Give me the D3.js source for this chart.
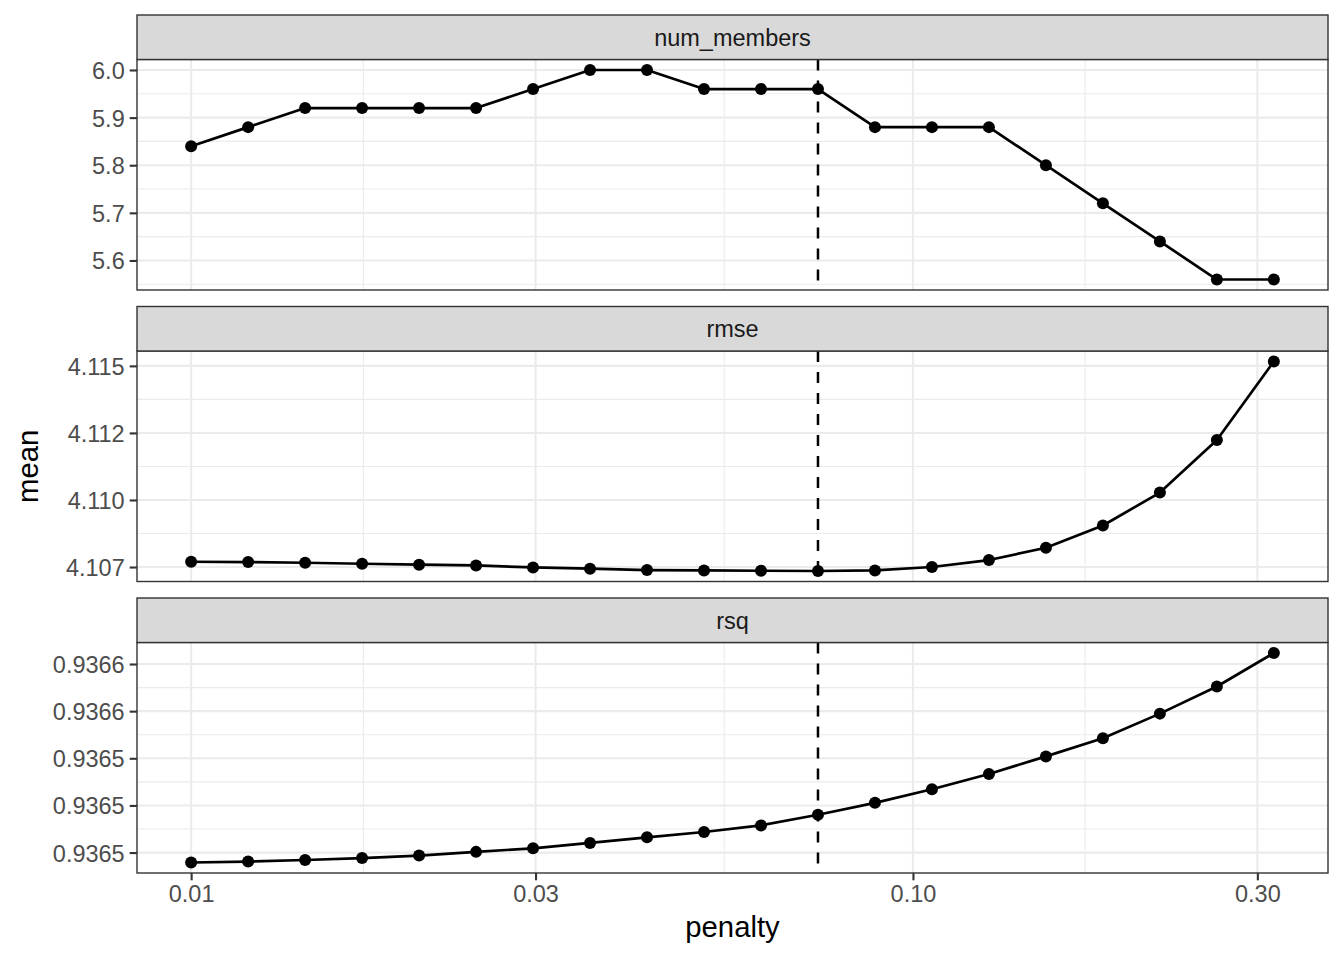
<!DOCTYPE html>
<html lang="en">
<head>
<meta charset="utf-8">
<title>mean by penalty</title>
<script src="https://d3js.org/d3.v7.min.js"></script>
<style>
  body { margin: 0; background: #fff; }
  svg { display: block; font-family: "Liberation Sans", Arial, Helvetica, sans-serif; }
</style>
</head>
<body>
<svg id="chart" width="1344" height="960"></svg>
<script>
// data
const penalty = [0.0100000, 0.0119935, 0.0143845, 0.0172521, 0.0206914,
                 0.0248163, 0.0297635, 0.0356970, 0.0428133, 0.0513504,
                 0.0615848, 0.0738620, 0.0885866, 0.1062468, 0.1274275,
                 0.1528305, 0.1832981, 0.2198421, 0.2636651, 0.3162278];
const numMembers = [5.84, 5.88, 5.92, 5.92, 5.92, 5.92, 5.96, 6.00, 6.00, 5.96,
                    5.96, 5.96, 5.88, 5.88, 5.88, 5.80, 5.72, 5.64, 5.56, 5.56];
const rmse = [4.107697, 4.107686, 4.107660, 4.107623, 4.107586,
              4.107560, 4.107485, 4.107437, 4.107388, 4.107374,
              4.107362, 4.107351, 4.107374, 4.107500, 4.107760,
              4.108218, 4.109048, 4.110275, 4.112236, 4.115164];
const rsq = [0.93649578, 0.93649620, 0.93649684, 0.93649768, 0.93649873,
             0.93650030, 0.93650181, 0.93650409, 0.93650646, 0.93650873,
             0.93651152, 0.93651603, 0.93652110, 0.93652688, 0.93653333,
             0.93654080, 0.93654852, 0.93655895, 0.93657046, 0.93658468];
const bestPenalty = 0.0738620;

const metricNames = ["num_members", "rmse", "rsq"];
const xTicks = [0.01, 0.03, 0.1, 0.3];
const xTickLabels = ["0.01", "0.03", "0.10", "0.30"];
const numMembersTicks = [5.6, 5.7, 5.8, 5.9, 6.0];
const numMembersLabels = ["5.6", "5.7", "5.8", "5.9", "6.0"];
const rmseTicks = [4.1075, 4.1100, 4.1125, 4.1150];
const rmseLabels = ["4.107", "4.110", "4.112", "4.115"];
const rsqTicks = [0.93650, 0.93652, 0.93654, 0.93656, 0.93658];
const rsqLabels = ["0.9365", "0.9365", "0.9365", "0.9366", "0.9366"];

const panels = [
  { name: metricNames[0], values: numMembers, ticks: numMembersTicks, labels: numMembersLabels },
  { name: metricNames[1], values: rmse, ticks: rmseTicks, labels: rmseLabels },
  { name: metricNames[2], values: rsq, ticks: rsqTicks, labels: rsqLabels }
];

// layout
const left = 137, right = 1328;
const firstTop = 15, stripH = 44.5, panelH = 230.5, gap = 16.5;
const gridCol = "#EBEBEB", borderCol = "#333333";

const svg = d3.select("#chart");
svg.append("rect").attr("width", 1344).attr("height", 960).attr("fill", "#fff");

// x scale, log10 with ggplot's 5% expansion
const lx = d3.extent(penalty).map(Math.log10);
const lpad = (lx[1] - lx[0]) * 0.05;
const x = d3.scaleLog()
  .domain([Math.pow(10, lx[0] - lpad), Math.pow(10, lx[1] + lpad)])
  .range([left, right]);

// minor breaks halfway between majors (in log space)
const lt = xTicks.map(Math.log10);
const xMinor = [];
for (let i = 0; i < lt.length - 1; i++) xMinor.push(Math.pow(10, (lt[i] + lt[i + 1]) / 2));

panels.forEach((p, k) => {
  const stripTop = firstTop + k * (stripH + panelH + gap);
  const top = stripTop + stripH;
  const bottom = top + panelH;

  const ext = d3.extent(p.values);
  const pad = (ext[1] - ext[0]) * 0.05;
  const y = d3.scaleLinear().domain([ext[0] - pad, ext[1] + pad]).range([bottom, top]);

  const step = p.ticks[1] - p.ticks[0];
  const yMinor = [p.ticks[0] - step / 2];
  for (let i = 0; i < p.ticks.length; i++) yMinor.push(p.ticks[i] + step / 2);
  const dom = y.domain();
  const yMinorIn = yMinor.filter(v => v > dom[0] && v < dom[1]);

  const g = svg.append("g");

  g.append("rect")
    .attr("x", left).attr("y", top)
    .attr("width", right - left).attr("height", panelH)
    .attr("fill", "#fff");

  // minor grid
  g.selectAll(".hmin").data(yMinorIn).join("line")
    .attr("x1", left).attr("x2", right)
    .attr("y1", d => y(d)).attr("y2", d => y(d))
    .attr("stroke", gridCol).attr("stroke-width", 1.1);
  g.selectAll(".vmin").data(xMinor).join("line")
    .attr("x1", d => x(d)).attr("x2", d => x(d))
    .attr("y1", top).attr("y2", bottom)
    .attr("stroke", gridCol).attr("stroke-width", 1.1);

  // major grid
  g.selectAll(".hmaj").data(p.ticks).join("line")
    .attr("x1", left).attr("x2", right)
    .attr("y1", d => y(d)).attr("y2", d => y(d))
    .attr("stroke", gridCol).attr("stroke-width", 2.1);
  g.selectAll(".vmaj").data(xTicks).join("line")
    .attr("x1", d => x(d)).attr("x2", d => x(d))
    .attr("y1", top).attr("y2", bottom)
    .attr("stroke", gridCol).attr("stroke-width", 2.1);

  // series
  const pts = penalty.map((v, i) => [v, p.values[i]]);
  const line = d3.line().x(d => x(d[0])).y(d => y(d[1]));
  g.append("path")
    .attr("d", line(pts))
    .attr("fill", "none")
    .attr("stroke", "#000")
    .attr("stroke-width", 2.7)
    .attr("stroke-linejoin", "round");
  g.selectAll(".pt").data(pts).join("circle")
    .attr("cx", d => x(d[0])).attr("cy", d => y(d[1]))
    .attr("r", 6).attr("fill", "#000");

  // chosen penalty
  g.append("line")
    .attr("x1", x(bestPenalty)).attr("x2", x(bestPenalty))
    .attr("y1", top).attr("y2", bottom)
    .attr("stroke", "#000").attr("stroke-width", 2.5)
    .attr("stroke-dasharray", "11,10");

  // border
  g.append("rect")
    .attr("x", left).attr("y", top)
    .attr("width", right - left).attr("height", panelH)
    .attr("fill", "none").attr("stroke", borderCol).attr("stroke-width", 1.4);

  // strip
  g.append("rect")
    .attr("x", left).attr("y", stripTop)
    .attr("width", right - left).attr("height", stripH)
    .attr("fill", "#D9D9D9").attr("stroke", borderCol).attr("stroke-width", 1.4);
  g.append("text")
    .attr("x", (left + right) / 2).attr("y", stripTop + stripH / 2)
    .attr("dy", "0.36em")
    .attr("text-anchor", "middle")
    .attr("font-size", 23.5).attr("fill", "#1A1A1A")
    .text(p.name);

  // y axis
  const yAxis = d3.axisLeft(y)
    .tickValues(p.ticks)
    .tickFormat((d, i) => p.labels[i])
    .tickSize(7.3).tickPadding(5);
  const ya = svg.append("g").attr("transform", `translate(${left},0)`).call(yAxis);
  ya.select(".domain").remove();
  ya.selectAll(".tick line").attr("stroke", borderCol).attr("stroke-width", 2.1);
  ya.selectAll(".tick text")
    .attr("font-size", 23.5).attr("fill", "#4D4D4D")
    .attr("font-family", "Liberation Sans, Arial, sans-serif")
    .attr("dy", "0.36em");

  // x axis only under the last panel
  if (k === panels.length - 1) {
    const xAxis = d3.axisBottom(x)
      .tickValues(xTicks)
      .tickFormat((d, i) => xTickLabels[i])
      .tickSize(7.3).tickPadding(5);
    const xa = svg.append("g").attr("transform", `translate(0,${bottom})`).call(xAxis);
    xa.select(".domain").remove();
    xa.selectAll(".tick line").attr("stroke", borderCol).attr("stroke-width", 2.1);
    xa.selectAll(".tick text")
      .attr("font-size", 23.5).attr("fill", "#4D4D4D")
      .attr("font-family", "Liberation Sans, Arial, sans-serif");

    svg.append("text")
      .attr("x", (left + right) / 2).attr("y", bottom + 64)
      .attr("text-anchor", "middle")
      .attr("font-size", 29.3).attr("fill", "#000")
      .text("penalty");
  }
});

// y axis title
const yMid = (firstTop + stripH + firstTop + 3 * (stripH + panelH) + 2 * gap) / 2;
svg.append("text")
  .attr("transform", `translate(38,${yMid}) rotate(-90)`)
  .attr("text-anchor", "middle")
  .attr("font-size", 29.3).attr("fill", "#000")
  .text("mean");
</script>
</body>
</html>
